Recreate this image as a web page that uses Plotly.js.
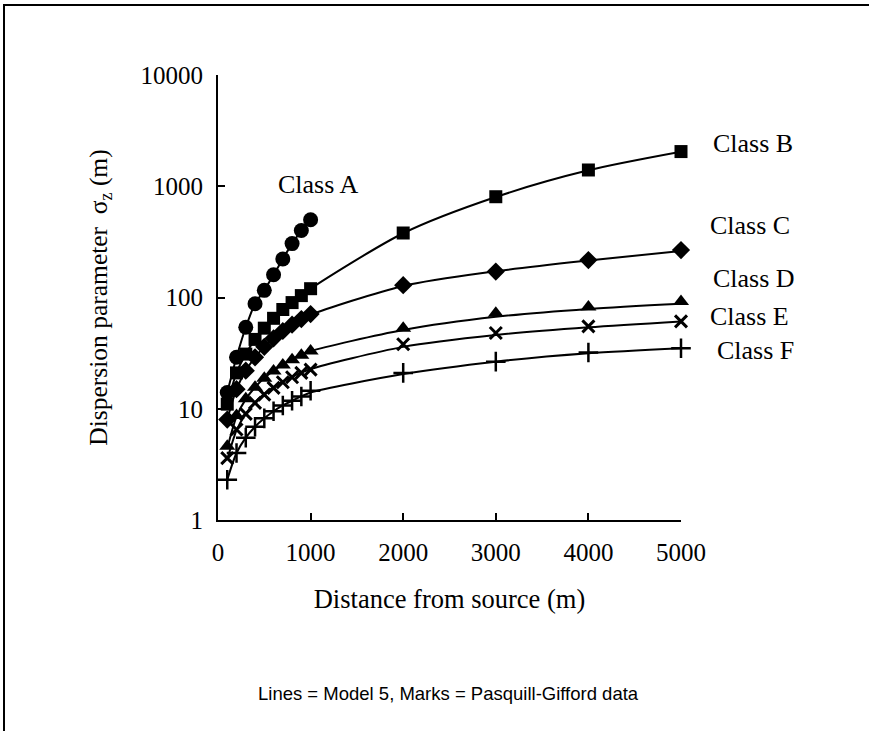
<!DOCTYPE html>
<html>
<head>
<meta charset="utf-8">
<script src="https://cdn.plot.ly/plotly-3.0.1.min.js"></script>
<style>
  html, body { margin: 0; padding: 0; background: #fff; }
  #wrap { position: relative; width: 869px; height: 731px; overflow: hidden; }
  #chart { position: absolute; left: 0; top: 0; width: 869px; height: 731px; }
  .frameTop { position: absolute; left: 3px; top: 4px; width: 866px; height: 2px; background: #000; }
  .frameLeft { position: absolute; left: 3px; top: 4px; width: 2px; height: 727px; background: #000; }
</style>
</head>
<body>
<div id="wrap">
  <div id="chart"></div>
  <div class="frameTop"></div>
  <div class="frameLeft"></div>
</div>
<script>
// Distances (m)
const distA = [100, 200, 300, 400, 500, 600, 700, 800, 900, 1000];
const dist = [100, 200, 300, 400, 500, 600, 700, 800, 900, 1000, 2000, 3000, 4000, 5000];

// Pasquill-Gifford data (marks), sigma_z in m
const pgA = [14, 29, 54, 88, 116, 160, 222, 305, 400, 500];
const pgB = [11, 21, 31, 42, 53, 65, 78, 90, 104, 120, 380, 805, 1400, 2050];
const pgC = [8, 15, 22, 29, 36, 43, 50, 57, 64, 71, 129, 171, 217, 267];
const pgD = [4.6, 8.7, 12.3, 15.6, 18.8, 21.8, 24.7, 27.6, 30.3, 33, 53, 72, 82, 92];
const pgE = [3.6, 6.5, 9.0, 11.3, 13.4, 15.4, 17.3, 19.2, 21.0, 22.5, 38, 48, 55, 61];
const pgF = [2.3, 4.0, 5.5, 6.9, 8.2, 9.5, 10.7, 11.8, 12.9, 14.5, 21, 26.5, 32, 35];

// Model 5 (lines)
const mA = [14, 29, 54, 88, 116, 160, 222, 305, 400, 500];
const mB = [11, 21, 31, 42, 53, 65, 78, 90, 104, 120, 378, 800, 1390, 2040];
const mC = [8, 15, 22, 29, 36, 43, 50, 57, 64, 70, 127, 172, 215, 262];
const mD = [4.4, 8.5, 12.2, 15.6, 18.9, 22, 25, 27.9, 30.6, 33, 51, 67, 79, 88];
const mE = [3.5, 6.4, 9, 11.4, 13.6, 15.7, 17.6, 19.4, 21.1, 22.8, 36, 46, 54, 61];
const mF = [2.3, 4, 5.5, 6.9, 8.2, 9.5, 10.7, 11.8, 12.9, 14, 20.5, 26.5, 31.5, 35];

const classLabels = ["Class A", "Class B", "Class C", "Class D", "Class E", "Class F"];
const yTickVals = [1, 10, 100, 1000, 10000];
const yTickText = ["1", "10", "100", "1000", "10000"];
const xTickVals = [0, 1000, 2000, 3000, 4000, 5000];

const serif = "Liberation Serif, Times New Roman, serif";

function lineTrace(x, y) {
  return { x: x, y: y, mode: "lines", type: "scatter", line: { color: "#000", width: 2, shape: "spline", smoothing: 0.8 }, hoverinfo: "skip", cliponaxis: false };
}
function markTrace(x, y, symbol, size, lw) {
  return { x: x, y: y, mode: "markers", type: "scatter", cliponaxis: false,
    marker: { symbol: symbol, size: size, color: "#000", line: { color: "#000", width: lw } } };
}

const data = [
  lineTrace(distA, mA), lineTrace(dist, mB), lineTrace(dist, mC),
  lineTrace(dist, mD), lineTrace(dist, mE), lineTrace(dist, mF),
  markTrace(distA, pgA, "circle", 15, 0),
  markTrace(dist, pgB, "square", 13, 0),
  markTrace(dist, pgC, "diamond", 14, 0),
  markTrace(dist, pgD, "triangle-up", 14, 0),
  markTrace(dist, pgE, "x-thin-open", 12, 3),
  markTrace(dist, pgF, "cross-thin-open", 14, 2.5)
];

const labelPos = [
  [0.216, 0.753], [1.1555, 0.847], [1.149, 0.661],
  [1.158, 0.5416], [1.147, 0.458], [1.16, 0.382]
];
const annotations = classLabels.map((t, i) => ({
  text: t, xref: "paper", yref: "paper", x: labelPos[i][0], y: labelPos[i][1],
  xanchor: "center", yanchor: "middle", showarrow: false,
  font: { family: serif, size: 26, color: "#000" }
}));
annotations.push({
  text: "Lines = Model 5, Marks = Pasquill-Gifford data",
  xref: "paper", yref: "paper", x: 0.497, y: -0.389,
  xanchor: "center", yanchor: "middle", showarrow: false,
  font: { family: "Liberation Sans, Arial, sans-serif", size: 18.5, color: "#000" }
});

const layout = {
  width: 869, height: 731,
  margin: { l: 218, r: 188, t: 75, b: 211 },
  paper_bgcolor: "#fff", plot_bgcolor: "#fff",
  showlegend: false,
  xaxis: {
    range: [0, 5000], tickvals: xTickVals, ticktext: xTickVals.map(String),
    showgrid: false, zeroline: false, showline: true, linecolor: "#000", linewidth: 2,
    ticks: "inside", ticklen: 7, tickwidth: 2, tickcolor: "#000",
    ticklabelstandoff: 9,
    tickfont: { family: serif, size: 25, color: "#000" },
    title: { text: "Distance from source (m)", standoff: 24, font: { family: serif, size: 26.5, color: "#000" } }
  },
  yaxis: {
    type: "log", range: [0, 4], tickvals: yTickVals, ticktext: yTickText,
    showgrid: false, zeroline: false, showline: true, linecolor: "#000", linewidth: 2,
    ticks: "inside", ticklen: 7, tickwidth: 2, tickcolor: "#000",
    ticklabelstandoff: 8,
    tickfont: { family: serif, size: 25, color: "#000" },
    title: { text: "Dispersion parameter  σ<sub>z</sub> (m)", standoff: 26, font: { family: serif, size: 25.5, color: "#000" } }
  },
  annotations: annotations
};

Plotly.newPlot("chart", data, layout, { staticPlot: true, displayModeBar: false });
</script>
</body>
</html>
